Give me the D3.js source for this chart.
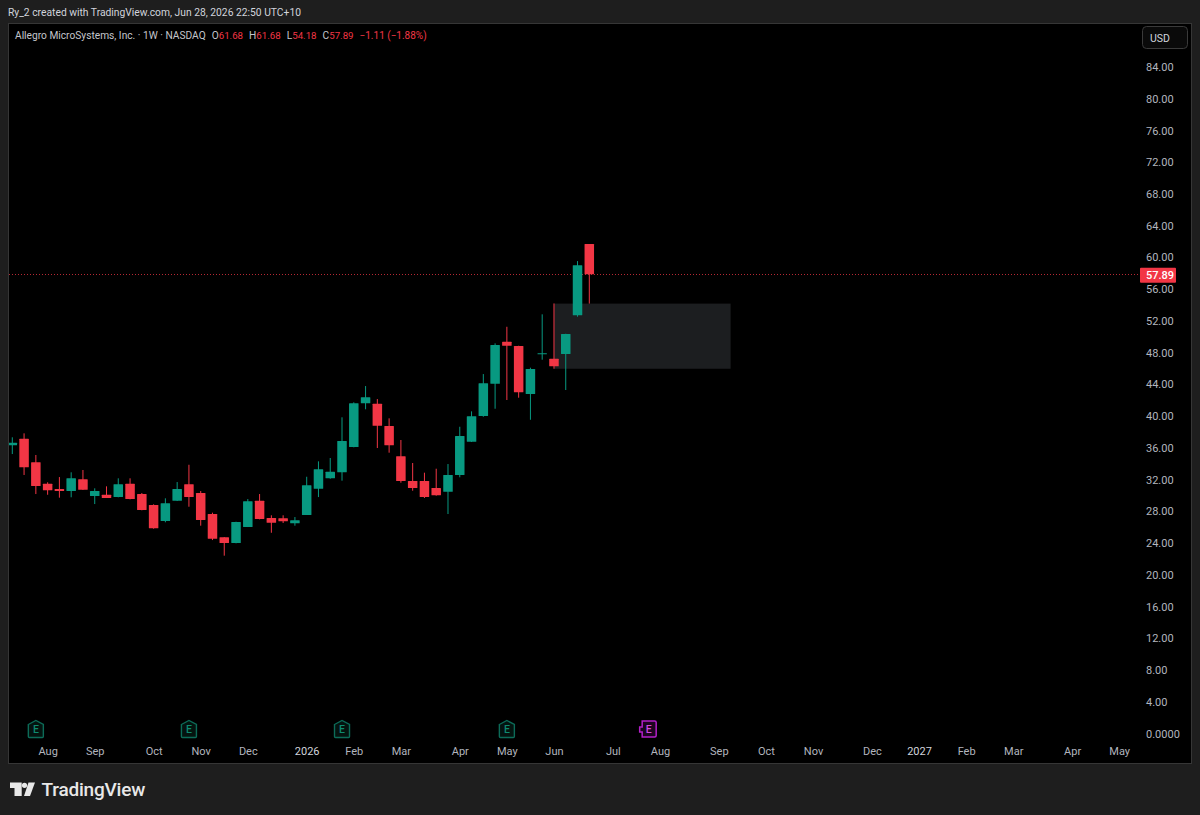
<!DOCTYPE html>
<html>
<head>
<meta charset="utf-8">
<title>ALGM weekly candles</title>
<script src="https://cdn.jsdelivr.net/npm/d3@7/dist/d3.min.js"></script>
<style>
  html, body { margin: 0; padding: 0; background: #1e1e1e; }
  svg { display: block; }
  text { font-family: Roboto, "Liberation Sans", sans-serif; }
</style>
</head>
<body>
<svg id="chart" width="1200" height="815"></svg>
<script>
// Weekly OHLC, oldest first
const opens = [36.32,37.15,34.18,31.48,30.81,30.56,32.03,29.93,30.09,29.80,31.48,30.18,28.80,26.78,29.34,31.40,30.31,27.66,24.73,24.01,26.02,29.34,27.16,27.12,26.49,27.54,30.85,32.16,32.92,36.10,41.61,41.56,38.75,34.93,31.82,31.82,30.94,30.47,32.58,36.77,40.01,44.08,49.37,48.83,42.78,47.79,47.23,47.82,52.70,61.68];
const highs = [37.33,37.83,35.10,31.66,32.32,32.92,33.21,30.90,31.15,32.16,32.16,30.31,28.88,29.64,31.69,33.87,30.56,27.83,24.76,26.69,29.55,30.18,27.50,27.50,27.28,32.36,34.30,34.72,39.85,41.74,43.79,42.15,39.72,36.99,34.09,32.87,33.37,33.96,38.66,40.60,45.30,49.17,51.26,48.87,46.10,52.83,54.20,50.38,59.54,61.68];
const lows = [35.22,32.58,30.18,30.09,29.72,29.77,30.69,28.92,29.68,29.77,29.51,28.13,25.81,26.62,29.30,28.58,26.19,24.38,22.41,23.97,26.02,26.99,25.30,26.53,26.19,27.54,29.80,32.11,31.86,36.07,40.86,35.98,35.39,31.61,30.60,29.68,29.97,27.66,32.29,36.74,39.92,40.93,42.03,42.32,39.54,47.11,45.97,43.29,52.53,54.18];
const closes = [36.65,33.55,31.19,30.65,30.56,32.16,30.72,30.56,29.68,31.40,29.55,28.17,25.86,29.01,30.81,29.80,26.91,24.55,24.01,26.65,29.26,27.03,26.57,26.74,26.87,31.28,33.29,32.99,36.86,41.61,42.37,38.79,36.32,31.82,30.94,29.80,30.02,32.58,37.49,39.97,44.13,48.96,48.87,43.00,45.93,47.91,46.27,50.34,59.00,57.89];

// Price axis
const priceTicks = [0,4,8,12,16,20,24,28,32,36,40,44,48,52,56,60,64,68,72,76,80,84];

// Time axis: bar position of each month label
const monthBars = [3,7,12,16,20,25,29,33,38,42,46,51,55,60,64,68,73,77,81,85,90,94];
const monthLabels = ["Aug","Sep","Oct","Nov","Dec","2026","Feb","Mar","Apr","May","Jun","Jul","Aug","Sep","Oct","Nov","Dec","2027","Feb","Mar","Apr","May"];
const yearLabels = ["2026","2027"];

// Earnings markers, by bar position
const reportedEarningsBars = [2,15,28,42];
const upcomingEarningsBars = [54];

// Highlighted zone: first bar, last bar, top and bottom price
const zoneBars = [46,61];
const zonePrices = [54.18,45.97];

const lastClose = 57.89;

const UP = "#089981", DOWN = "#f23645", AXIS_TEXT = "#b2b5be";
const plot = { left: 9, right: 1191, top: 24, bottom: 763 };

const svg = d3.select("#chart");
const x = d3.scaleLinear().domain([0, 49]).range([12.3, 589.3]);
const y = d3.scaleLinear().domain([0, 84]).range([733.5, 67]);

// Panel
svg.append("rect").attr("x", plot.left - 0.5).attr("y", plot.top - 0.5)
  .attr("width", plot.right - plot.left + 1).attr("height", plot.bottom - plot.top + 1)
  .attr("fill", "#000").attr("stroke", "#363636");

svg.append("clipPath").attr("id", "plot-clip").append("rect")
  .attr("x", plot.left).attr("y", plot.top)
  .attr("width", plot.right - plot.left).attr("height", plot.bottom - plot.top);

const g = svg.append("g").attr("clip-path", "url(#plot-clip)");

// Zone
g.append("rect")
  .attr("x", x(zoneBars[0])).attr("width", x(zoneBars[1]) - x(zoneBars[0]))
  .attr("y", y(zonePrices[0])).attr("height", y(zonePrices[1]) - y(zonePrices[0]))
  .attr("fill", "#1c1e20");

// Last price line
g.append("line")
  .attr("x1", plot.left).attr("x2", 1140)
  .attr("y1", Math.round(y(lastClose)) + 0.5).attr("y2", Math.round(y(lastClose)) + 0.5)
  .attr("stroke", DOWN).attr("stroke-width", 1).attr("stroke-dasharray", "1 2").attr("opacity", 0.75);

// Candles
const bars = d3.range(opens.length);
const colour = i => closes[i] >= opens[i] ? UP : DOWN;
const candle = g.selectAll("g.candle").data(bars).join("g").attr("class", "candle");
candle.append("line")
  .attr("x1", i => x(i)).attr("x2", i => x(i))
  .attr("y1", i => y(highs[i])).attr("y2", i => y(lows[i]))
  .attr("stroke", colour).attr("stroke-width", 1);
candle.append("rect")
  .attr("x", i => x(i) - 4.75).attr("width", 9.5)
  .attr("y", i => y(Math.max(opens[i], closes[i])))
  .attr("height", i => Math.max(1, Math.abs(y(opens[i]) - y(closes[i]))))
  .attr("fill", colour).attr("rx", 0.5);

// Price axis; the zero tick carries four decimals
const priceText = d3.format(".2f");
const priceAxis = svg.append("g").attr("transform", "translate(1146,0)")
  .call(d3.axisRight(y).tickValues(priceTicks).tickSize(0).tickPadding(0)
    .tickFormat(d => d === 0 ? "0.0000" : priceText(d)));
priceAxis.select(".domain").remove();
priceAxis.selectAll("text").attr("fill", AXIS_TEXT).style("font-size", "11px").style("font-family", "Roboto");

// Time axis
const timeAxis = svg.append("g").attr("transform", "translate(0,747)")
  .call(d3.axisBottom(x).tickValues(monthBars).tickSize(0).tickPadding(0)
    .tickFormat(d => monthLabels[monthBars.indexOf(d)]));
timeAxis.select(".domain").remove();
timeAxis.selectAll("text").style("font-size", "11px").style("font-family", "Roboto")
  .attr("fill", function () { return yearLabels.includes(this.textContent) ? "#d1d4dc" : AXIS_TEXT; });

// Last price badge
const badgeY = y(lastClose);
svg.append("rect").attr("x", 1140).attr("width", 36).attr("y", badgeY - 6.5).attr("height", 15)
  .attr("fill", DOWN).attr("rx", 1);
svg.append("text").attr("x", 1146).attr("y", badgeY + 5).attr("fill", "#fff")
  .attr("font-size", 11).attr("font-weight", 500).text(priceText(lastClose));

// Currency button
svg.append("rect").attr("x", 1142.5).attr("y", 26.5).attr("width", 45).attr("height", 22).attr("rx", 4)
  .attr("fill", "#0a0a0a").attr("stroke", "#3a3a3a");
svg.append("text").attr("x", 1150).attr("y", 41.5).attr("fill", "#d1d4dc")
  .attr("font-size", 10.5).attr("font-weight", 400).text("USD");

// Header and symbol legend
svg.append("text").attr("x", 8).attr("y", 16).attr("fill", "#d1d4dc").attr("font-size", 10.3)
  .text("Ry_2 created with TradingView.com, Jun 28, 2026 22:50 UTC+10");

const legend = svg.append("text").attr("x", 15).attr("y", 39).attr("font-size", 10.2);
const GREY = "#c4c6cc", VAL = "#f23645";
[["Allegro MicroSystems, Inc. · 1W · NASDAQ", GREY, 0, 10.2],
 ["O", GREY, 6, 10.2], ["61.68", VAL, 0, 9.7],
 ["H", GREY, 6, 10.2], ["61.68", VAL, 0, 9.7],
 ["L", GREY, 6, 10.2], ["54.18", VAL, 0, 9.7],
 ["C", GREY, 6, 10.2], ["57.89", VAL, 0, 9.7],
 ["−1.11 (−1.88%)", VAL, 6, 10]
].forEach(([t, c, dx, fs]) => legend.append("tspan").attr("fill", c).attr("dx", dx).attr("font-size", fs).text(t));

// Earnings markers
const markerY = 729;
const reported = svg.append("g").selectAll("g").data(reportedEarningsBars).join("g")
  .attr("transform", d => `translate(${x(d)},${markerY})`);
reported.append("path").attr("d", "M-7.5,-4.5 L0,-8.5 L7.5,-4.5 L7.5,7.5 Q7.5,8.5 6.5,8.5 L-6.5,8.5 Q-7.5,8.5 -7.5,7.5 Z")
  .attr("fill", "#04130f").attr("stroke", "#0c6b58").attr("stroke-width", 1.4);
reported.append("text").attr("text-anchor", "middle").attr("y", 4.2).attr("font-size", 10.5).attr("font-weight", 500)
  .attr("fill", "#0f8a70").text("E");

const upcoming = svg.append("g").selectAll("g").data(upcomingEarningsBars).join("g")
  .attr("transform", d => `translate(${x(d)},${markerY})`);
upcoming.append("path").attr("d", "M-6,-8 L6.5,-8 Q8,-8 8,-6.5 L8,6.5 Q8,8 6.5,8 L-6,8 L-6,3 L-8.5,3 L-8.5,-2 L-6,-2 Z")
  .attr("fill", "#1c0520").attr("stroke", "#b31fc8").attr("stroke-width", 1.5);
upcoming.append("text").attr("text-anchor", "middle").attr("x", 0.5).attr("y", 4.2).attr("font-size", 10.5).attr("font-weight", 500)
  .attr("fill", "#d24ae0").text("E");

// Brand mark and wordmark
const brand = svg.append("g").attr("transform", "translate(10,782.5)").attr("fill", "#e8e8e8");
brand.append("path").attr("d", "M0,0 H11.7 V13.5 H4.5 V5.5 H0 Z");
brand.append("circle").attr("cx", 14.5).attr("cy", 2.8).attr("r", 2.6);
brand.append("path").attr("d", "M18.5,0 H25 L20,13.5 H14 Z");
svg.append("text").attr("x", 41.5).attr("y", 796).attr("fill", "#e8e8e8")
  .attr("font-size", 19).attr("font-weight", 500).attr("font-family", "Inter, Roboto, sans-serif")
  .style("letter-spacing", "-0.2px").text("TradingView");
</script>
</body>
</html>
